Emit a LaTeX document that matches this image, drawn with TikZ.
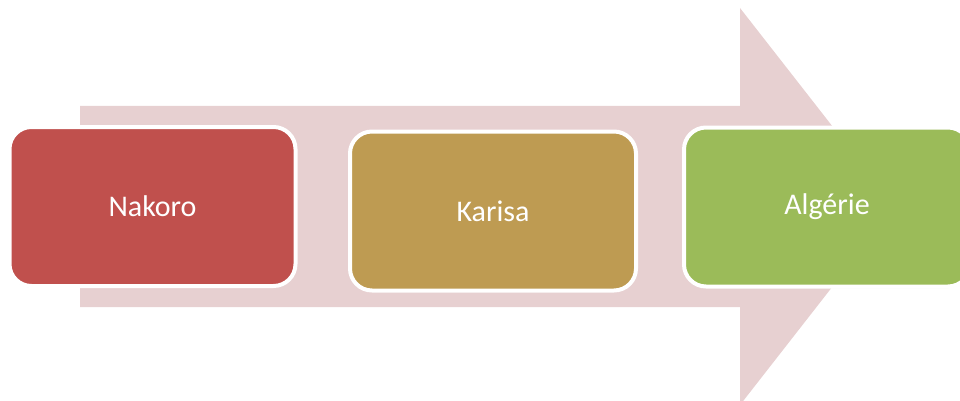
\documentclass[tikz,border=0pt]{standalone}
\usepackage{fontspec}
\setmainfont{Carlito}
\usetikzlibrary{positioning,shadows}

\definecolor{arrowpink}{RGB}{231,208,209}
\definecolor{boxred}{RGB}{192,80,77}
\definecolor{boxgold}{RGB}{190,155,82}
\definecolor{boxgreen}{RGB}{155,187,89}

\begin{document}
\begin{tikzpicture}[x=1pt,y=-1pt]

\pgfmathsetmacro{\bodytop}{106}
\pgfmathsetmacro{\bodybot}{307}
\pgfmathsetmacro{\headx}{740}
\pgfmathsetmacro{\tipx}{895}

\tikzset{stagebox/.style={draw=white, line width=4pt, rounded corners=22pt,
			minimum width=286pt, minimum height=159pt,
			text=white, font=\fontsize{30}{34}\selectfont,
			drop shadow={opacity=.25,shadow xshift=0pt,shadow yshift=-1.5pt}}}

\useasboundingbox (0,0) rectangle (960,401);
\clip (0,0) rectangle (960,401);

% ARROW
\fill[arrowpink] (80,\bodytop) -- (\headx,\bodytop) -- (\headx,8) -- (\tipx,206.5)
	-- (\headx,405) -- (\headx,\bodybot) -- (80,\bodybot) -- cycle;

% BOXES
\node(nakoro)[stagebox, fill=boxred]   at (152.5,206.5) {Nakoro};
\node(karisa)[stagebox, fill=boxgold]  at (493,211)     {Karisa};
\node(algerie)[stagebox, fill=boxgreen] at (827,207)    {Algérie};

\end{tikzpicture}
\end{document}
